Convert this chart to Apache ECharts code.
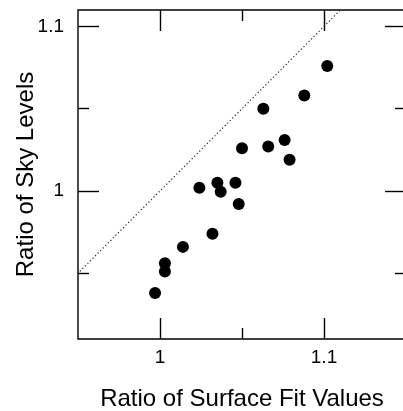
<!DOCTYPE html>
<html>
<head>
<meta charset="utf-8">
<script src="https://cdn.jsdelivr.net/npm/echarts@6/dist/echarts.min.js"></script>
<style>
  html, body { margin: 0; padding: 0; background: #fff; }
  #chart { width: 403px; height: 411px; }
</style>
</head>
<body>
<div id="chart"></div>
<script>
// surface fit ratio (x) vs sky level ratio (y)
var surfaceFit = [1.102, 1.088, 1.063, 1.076, 1.066, 1.050, 1.079, 1.046, 1.024,
                  1.035, 1.037, 1.048, 1.032, 1.014, 1.003, 1.003, 0.997];
var skyLevels  = [1.076, 1.058, 1.050, 1.031, 1.027, 1.026, 1.019, 1.005, 1.002,
                  1.005, 0.9995, 0.992, 0.974, 0.966, 0.956, 0.951, 0.938];
var majorTicks = [1, 1.1];
var xMinorTicks = [1.05];
var yMinorTicks = [0.95, 1.05];
var diagonal = [0.9, 1.2];   // y = x reference line

var points = surfaceFit.map(function (v, i) { return [v, skyLevels[i]]; });
var font = '"Liberation Sans", Arial, sans-serif';

// one axis per tick set; labels only on the main bottom/left axes
function tickAxis(pos, ticks, len, range, labelMargin) {
  return {
    type: 'value',
    position: pos,
    min: range[0],
    max: range[1],
    axisLine: { show: false },
    splitLine: { show: false },
    axisTick: { show: true, inside: true, length: len, customValues: ticks,
                lineStyle: { color: '#000', width: 1.4 } },
    axisLabel: { show: labelMargin != null, customValues: majorTicks, margin: labelMargin || 8,
                 color: '#000', fontFamily: font, fontSize: 19,
                 formatter: function (v) { return String(Math.round(v * 10) / 10); } }
  };
}

var xr = [0.95, 1.15];
var yr = [0.91, 1.11];

var xMain = tickAxis('bottom', majorTicks, 21, xr, 9);
xMain.name = 'Ratio of Surface Fit Values';
xMain.nameLocation = 'middle';
xMain.nameGap = 48;
xMain.nameMoveOverlap = false;
xMain.nameTextStyle = { color: '#000', fontFamily: font, fontSize: 24 };

var yMain = tickAxis('left', majorTicks, 21, yr, 14);
yMain.name = 'Ratio of Sky Levels';
yMain.nameLocation = 'middle';
yMain.nameGap = 40;
yMain.nameMoveOverlap = false;
yMain.nameTextStyle = { color: '#000', fontFamily: font, fontSize: 24 };

var chart = echarts.init(document.getElementById('chart'));
chart.setOption({
  animation: false,
  grid: { left: 78, top: 10, width: 328, height: 329, show: true,
          containLabel: false, outerBoundsMode: 'none',
          borderColor: '#000', borderWidth: 1.4, backgroundColor: 'transparent' },
  xAxis: [
    xMain,
    tickAxis('bottom', xMinorTicks, 11, xr),
    tickAxis('top', majorTicks, 21, xr),
    tickAxis('top', xMinorTicks, 11, xr)
  ],
  yAxis: [
    yMain,
    tickAxis('left', yMinorTicks, 11, yr),
    tickAxis('right', majorTicks, 21, yr),
    tickAxis('right', yMinorTicks, 11, yr)
  ],
  series: [
    {
      type: 'line',
      data: diagonal.map(function (v) { return [v, v]; }),
      showSymbol: false,
      clip: true,
      lineStyle: { color: '#222', width: 1.2, type: [1.2, 2.4] }
    },
    {
      type: 'scatter',
      data: points,
      symbolSize: 12,
      itemStyle: { color: '#000', opacity: 1 }
    }
  ]
});
</script>
</body>
</html>
